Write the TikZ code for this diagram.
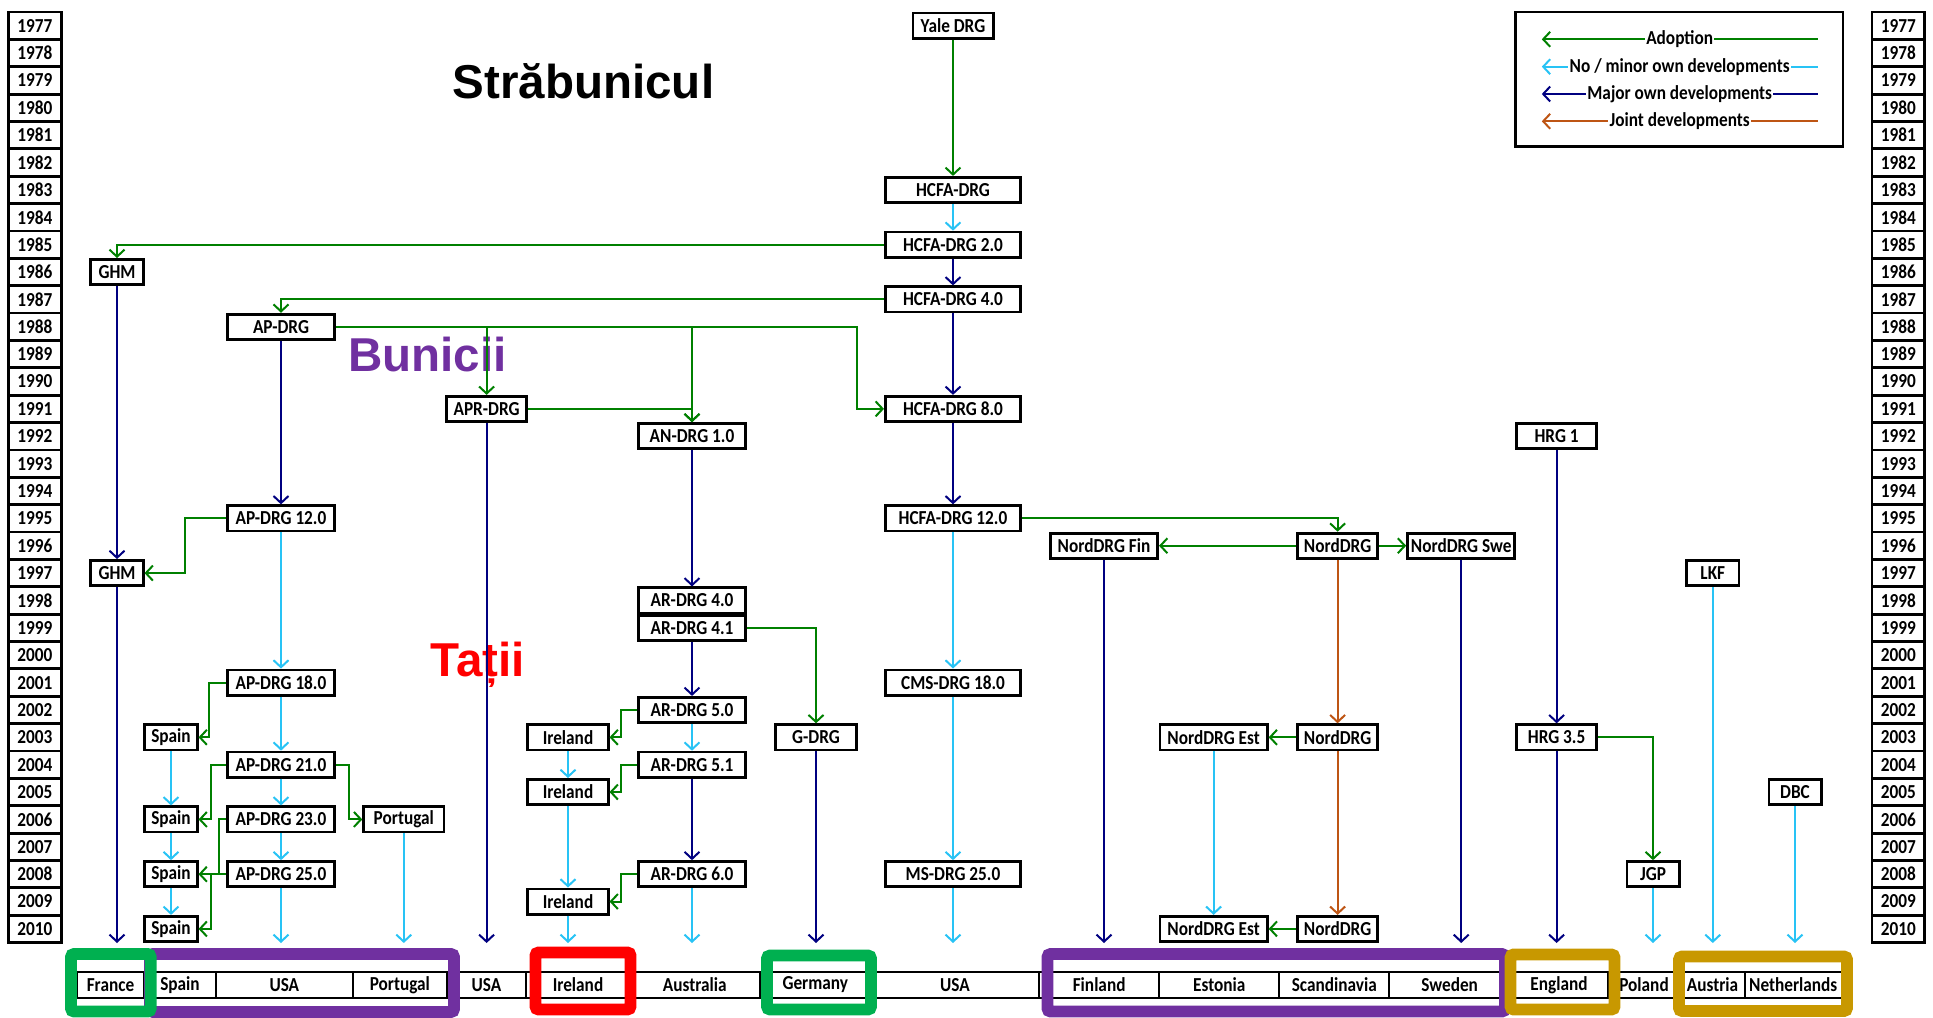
\documentclass[tikz,border=0pt]{standalone}
\usepackage{fontspec}
\setmainfont{Carlito}[FakeStretch=0.87]
\newfontfamily\titlefont{Liberation Sans}
\usetikzlibrary{arrows.meta,calc}
\definecolor{adoptgreen}{RGB}{0,128,0}
\definecolor{minorcyan}{RGB}{40,195,245}
\definecolor{majornavy}{RGB}{0,0,128}
\definecolor{jointbrown}{RGB}{190,85,20}
\definecolor{framegreen}{RGB}{0,176,80}
\definecolor{framepurple}{RGB}{112,48,160}
\definecolor{framegold}{RGB}{200,152,0}
\tikzset{
  lbl/.style={font=\bfseries\fontsize{14.1}{16}\selectfont},
  drgbox/.style={lbl, draw, line width=0.07cm, fill=white, inner sep=0pt, minimum height=0.63cm},
  w2/.style={drgbox, minimum width=1.305cm},
  w3/.style={drgbox, minimum width=2.005cm},
  w4/.style={drgbox, minimum width=2.68cm},
  w5/.style={drgbox, minimum width=3.38cm},
  yearbox/.style={lbl, draw, line width=0.07cm, inner sep=0pt, minimum width=1.3175cm, minimum height=0.684cm},
  cellbox/.style={lbl, draw, line width=0.05cm, inner sep=0pt, minimum height=0.665cm},
  conn/.style={line width=0.05cm, -{Straight Barb[length=0.175cm,width=0.375cm]}},
  adoptarr/.style={conn, draw=adoptgreen},
  minorarr/.style={conn, draw=minorcyan},
  majorarr/.style={conn, draw=majornavy},
  jointarr/.style={conn, draw=jointbrown},
  legtext/.style={lbl, fill=white, inner xsep=1pt, inner ysep=0pt},
  frameline/.style={line width=0.29cm, rounded corners=2pt},
  bigtitle/.style={font=\titlefont\bfseries\fontsize{33.8}{40}\selectfont, inner sep=0pt, anchor=base}
}
\begin{document}
\begin{tikzpicture}[x=0.025cm,y=-0.025cm]
\useasboundingbox (0,0) rectangle (1933,1018);
\foreach \yr [count=\i from 0] in {1977,...,2010}{
  \node[yearbox] (y\yr) at (34.8,{25.7+27.37*\i}) {\yr};
  \node[yearbox] (r\yr) at (1898.3,{25.7+27.37*\i}) {\yr};
}
\coordinate (bot) at (0,943);
\node[bigtitle] (t1) at (583.5,98.3) {Străbunicul};
\node[bigtitle, text=framepurple] (t2) at (427.5,371.7) {Bunicii};
\node[bigtitle, text=red] (t3) at (477.7,676.7) {Tații};
\node[w3] (yale) at (953,0 |- y1977) {Yale DRG};
\node[w5] (hcfa83) at (953,0 |- y1983) {HCFA-DRG};
\node[w5] (hcfa85) at (953,0 |- y1985) {HCFA-DRG 2.0};
\node[w5] (hcfa87) at (953,0 |- y1987) {HCFA-DRG 4.0};
\node[w5] (hcfa91) at (953,0 |- y1991) {HCFA-DRG 8.0};
\node[w5] (hcfa95) at (953,0 |- y1995) {HCFA-DRG 12.0};
\node[w5] (cms01) at (953,0 |- y2001) {CMS-DRG 18.0};
\node[w5] (ms08) at (953,0 |- y2008) {MS-DRG 25.0};
\draw[adoptarr] (yale) -- (hcfa83);
\draw[minorarr] (hcfa83) -- (hcfa85);
\draw[majorarr] (hcfa85) -- (hcfa87);
\draw[majorarr] (hcfa87) -- (hcfa91);
\draw[majorarr] (hcfa91) -- (hcfa95);
\draw[minorarr] (hcfa95) -- (cms01);
\draw[minorarr] (cms01) -- (ms08);
\draw[minorarr] (ms08) -- (ms08 |- bot);
\node[w2] (ghm86) at (117,0 |- y1986) {GHM};
\node[w2] (ghm97) at (117,0 |- y1997) {GHM};
\draw[adoptarr] (hcfa85) -| (ghm86);
\draw[majorarr] (ghm86) -- (ghm97);
\draw[majorarr] (ghm97) -- (ghm97 |- bot);
\node[w4] (ap88) at (281,0 |- y1988) {AP-DRG};
\node[w4] (ap95) at (281,0 |- y1995) {AP-DRG 12.0};
\node[w4] (ap01) at (281,0 |- y2001) {AP-DRG 18.0};
\node[w4] (ap04) at (281,0 |- y2004) {AP-DRG 21.0};
\node[w4] (ap06) at (281,0 |- y2006) {AP-DRG 23.0};
\node[w4] (ap08) at (281,0 |- y2008) {AP-DRG 25.0};
\draw[adoptarr] (hcfa87) -| (ap88);
\draw[majorarr] (ap88) -- (ap95);
\draw[minorarr] (ap95) -- (ap01);
\draw[minorarr] (ap01) -- (ap04);
\draw[minorarr] (ap04) -- (ap06);
\draw[minorarr] (ap06) -- (ap08);
\draw[minorarr] (ap08) -- (ap08 |- bot);
\draw[adoptarr] (ap95.west) -| ($(ghm97.east)+(40,0)$) -- (ghm97.east);
\node[w2] (sp03) at (171,0 |- y2003) {Spain};
\node[w2] (sp06) at (171,0 |- y2006) {Spain};
\node[w2] (sp08) at (171,0 |- y2008) {Spain};
\node[w2] (sp10) at (171,0 |- y2010) {Spain};
\draw[minorarr] (sp03) -- (sp06);
\draw[minorarr] (sp06) -- (sp08);
\draw[minorarr] (sp08) -- (sp10);
\draw[adoptarr] (ap01.west) -| ($(sp03.east)+(10.5,0)$) -- (sp03.east);
\draw[adoptarr] (ap04.west) -| ($(sp06.east)+(12.4,0)$) -- (sp06.east);
\draw[adoptarr] (ap06.west) -| ($(sp08.east)+(20.7,0)$) -- (sp08.east);
\draw[adoptarr] (ap08.west) -| ($(sp10.east)+(12.4,0)$) -- (sp10.east);
\node[w3] (pt06) at (403.8,0 |- y2006) {Portugal};
\draw[adoptarr] (ap04.east) -| ($(pt06.west)+(-13,0)$) -- (pt06.west);
\draw[minorarr] (pt06) -- (pt06 |- bot);
\node[w3] (apr91) at (486.6,0 |- y1991) {APR-DRG};
\draw[adoptarr] (ap88) -| (apr91);
\draw[majorarr] (apr91) -- (apr91 |- bot);
\node[w4] (an92) at (692,0 |- y1992) {AN-DRG 1.0};
\node[w4] (ar98) at (692,0 |- y1998) {AR-DRG 4.0};
\node[w4] (ar99) at (692,0 |- y1999) {AR-DRG 4.1};
\node[w4] (ar02) at (692,0 |- y2002) {AR-DRG 5.0};
\node[w4] (ar04) at (692,0 |- y2004) {AR-DRG 5.1};
\node[w4] (ar08) at (692,0 |- y2008) {AR-DRG 6.0};
\draw[adoptarr] (ap88) -| (an92);
\draw[adoptarr] (apr91) -| (an92);
\draw[adoptarr] (ap88.east) -| ($(hcfa91.west)+(-27,0)$) -- (hcfa91.west);
\draw[majorarr] (an92) -- (ar98);
\draw[majorarr] (ar99) -- (ar02);
\draw[minorarr] (ar02) -- (ar04);
\draw[majorarr] (ar04) -- (ar08);
\draw[minorarr] (ar08) -- (ar08 |- bot);
\node[w3] (ie03) at (568,0 |- y2003) {Ireland};
\node[w3] (ie05) at (568,0 |- y2005) {Ireland};
\node[w3] (ie09) at (568,0 |- y2009) {Ireland};
\draw[adoptarr] (ar02.west) -| ($(ie03.east)+(11,0)$) -- (ie03.east);
\draw[adoptarr] (ar04.west) -| ($(ie05.east)+(11,0)$) -- (ie05.east);
\draw[adoptarr] (ar08.west) -| ($(ie09.east)+(11,0)$) -- (ie09.east);
\draw[minorarr] (ie03) -- (ie05);
\draw[minorarr] (ie05) -- (ie09);
\draw[minorarr] (ie09) -- (ie09 |- bot);
\node[w3] (gd03) at (816,0 |- y2003) {G-DRG};
\draw[adoptarr] (ar99) -| (gd03);
\draw[majorarr] (gd03) -- (gd03 |- bot);
\node[w4] (nfi96) at (1104,0 |- y1996) {NordDRG Fin};
\node[w3] (nd96) at (1337.6,0 |- y1996) {NordDRG};
\node[w4] (nsw96) at (1461.2,0 |- y1996) {NordDRG Swe};
\node[w4] (nes03) at (1213.6,0 |- y2003) {NordDRG Est};
\node[w3] (nd03) at (1337.6,0 |- y2003) {NordDRG};
\node[w4] (nes10) at (1213.6,0 |- y2010) {NordDRG Est};
\node[w3] (nd10) at (1337.6,0 |- y2010) {NordDRG};
\draw[adoptarr] (hcfa95) -| (nd96);
\draw[adoptarr] (nd96) -- (nfi96);
\draw[adoptarr] (nd96) -- (nsw96);
\draw[majorarr] (nfi96) -- (nfi96 |- bot);
\draw[majorarr] (nsw96) -- (nsw96 |- bot);
\draw[jointarr] (nd96) -- (nd03);
\draw[jointarr] (nd03) -- (nd10);
\draw[adoptarr] (nd03) -- (nes03);
\draw[adoptarr] (nd10) -- (nes10);
\draw[minorarr] (nes03) -- (nes10);
\node[w3] (hrg92) at (1556.6,0 |- y1992) {HRG 1};
\node[w3] (hrg03) at (1556.6,0 |- y2003) {HRG 3.5};
\node[w2] (jgp08) at (1653,0 |- y2008) {JGP};
\node[w2] (lkf97) at (1712.8,0 |- y1997) {LKF};
\node[w2] (dbc05) at (1795,0 |- y2005) {DBC};
\draw[majorarr] (hrg92) -- (hrg03);
\draw[majorarr] (hrg03) -- (hrg03 |- bot);
\draw[adoptarr] (hrg03) -| (jgp08);
\draw[minorarr] (jgp08) -- (jgp08 |- bot);
\draw[minorarr] (lkf97) -- (lkf97 |- bot);
\draw[minorarr] (dbc05) -- (dbc05 |- bot);
\foreach \l/\r/\t [count=\i] in {77/144/France, 144/216/Spain, 216/352.7/USA, 352.7/447/Portugal, 447/526/USA, 526/630/Ireland, 630/759.5/Australia, 759.5/871/Germany, 871/1039/USA, 1039/1159.3/Finland, 1159.3/1279.3/Estonia, 1279.3/1389.3/Scandinavia, 1389.3/1510/Sweden, 1510/1608/England, 1608/1680/Poland, 1680/1745/Austria, 1745/1841.5/Netherlands}
  \node[cellbox, minimum width={(\r-\l)*0.025cm}] (c\i) at ({(\l+\r)/2},985) {\t};
\draw[frameline, framepurple] (150,954) rectangle (454,1012);
\draw[frameline, framegreen] (71,954) rectangle (150.7,1011.5);
\draw[frameline, red] (535.5,952.5) rectangle (630.5,1009.5);
\draw[frameline, framegreen] (767,955.5) rectangle (871,1009.5);
\draw[frameline, framepurple] (1047.5,954) rectangle (1505,1011.5);
\draw[frameline, framegold] (1510.5,954.5) rectangle (1614.5,1009.5);
\draw[frameline, framegold] (1679,956.5) rectangle (1847,1011);
\draw[line width=0.07cm] (1515.5,12) rectangle (1843,146.5);
\coordinate (la1) at (1817.5,39.3);
\coordinate (lb1) at (1541.8,39.3);
\coordinate (la2) at (1817.5,66.7);
\coordinate (lb2) at (1541.8,66.7);
\coordinate (la3) at (1817.5,94);
\coordinate (lb3) at (1541.8,94);
\coordinate (la4) at (1817.5,121.3);
\coordinate (lb4) at (1541.8,121.3);
\draw[adoptarr] (la1) -- node[legtext] {Adoption} (lb1);
\draw[minorarr] (la2) -- node[legtext] {No / minor own developments} (lb2);
\draw[majorarr] (la3) -- node[legtext] {Major own developments} (lb3);
\draw[jointarr] (la4) -- node[legtext] {Joint developments} (lb4);
\end{tikzpicture}
\end{document}
